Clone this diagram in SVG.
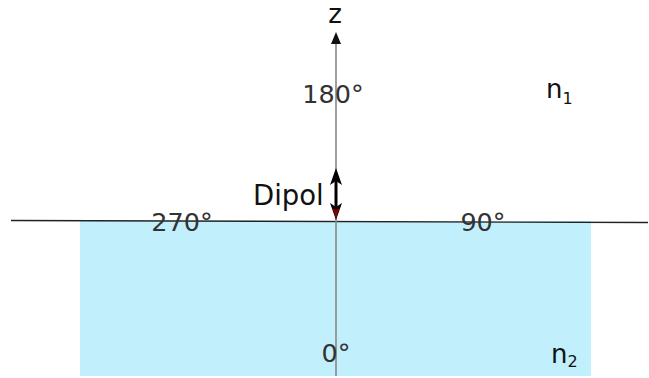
<svg xmlns="http://www.w3.org/2000/svg" width="649" height="378" viewBox="0 0 649 378">
<style>
.t{font-family:"DejaVu Sans",Verdana,sans-serif;font-size:25.5px;fill:#333}
.k{font-family:"DejaVu Sans",Verdana,sans-serif;font-size:26px;fill:#111}
.d{font-size:27.5px}
.s{font-size:16px}
</style>
<rect width="649" height="378" fill="#fff"/>
<g id="medium2"><rect x="80" y="221" width="511" height="155" fill="#c2effc"/></g>
<g id="connectors">
<line x1="11" y1="220.5" x2="648" y2="222.5" stroke="#222" stroke-width="1.3"/>
<line x1="336" y1="42" x2="336" y2="376" stroke="#888" stroke-width="1.6"/>
<polygon points="336,32 331,44 341,44" fill="#111"/>
<g id="dipol-arrow">
<line x1="336" y1="178" x2="336" y2="210" stroke="#000" stroke-width="3"/>
<polygon points="336,168 330,185 336,181 342,185" fill="#000"/>
<polygon points="336,220 330,203 336,207 342,203" fill="#000"/>
<polygon points="336,219 332.5,208 336,210 339.5,208" fill="#8b0000"/>
</g>
</g>
<g id="labels">
<text id="z" class="k" x="335" y="23" text-anchor="middle">z</text>
<text id="a180" class="t" x="333" y="103" text-anchor="middle">180°</text>
<text id="dipol" class="k d" x="253" y="205">Dipol</text>
<text id="a270" class="t" x="182" y="231" text-anchor="middle">270°</text>
<text id="a90" class="t" x="483" y="231" text-anchor="middle">90°</text>
<text id="a0" class="t" x="336" y="362" text-anchor="middle">0°</text>
<text id="n1" class="k" x="546" y="98">n<tspan class="s" dy="6">1</tspan></text>
<text id="n2" class="k" x="551" y="363">n<tspan class="s" dy="4">2</tspan></text>
</g>
</svg>
